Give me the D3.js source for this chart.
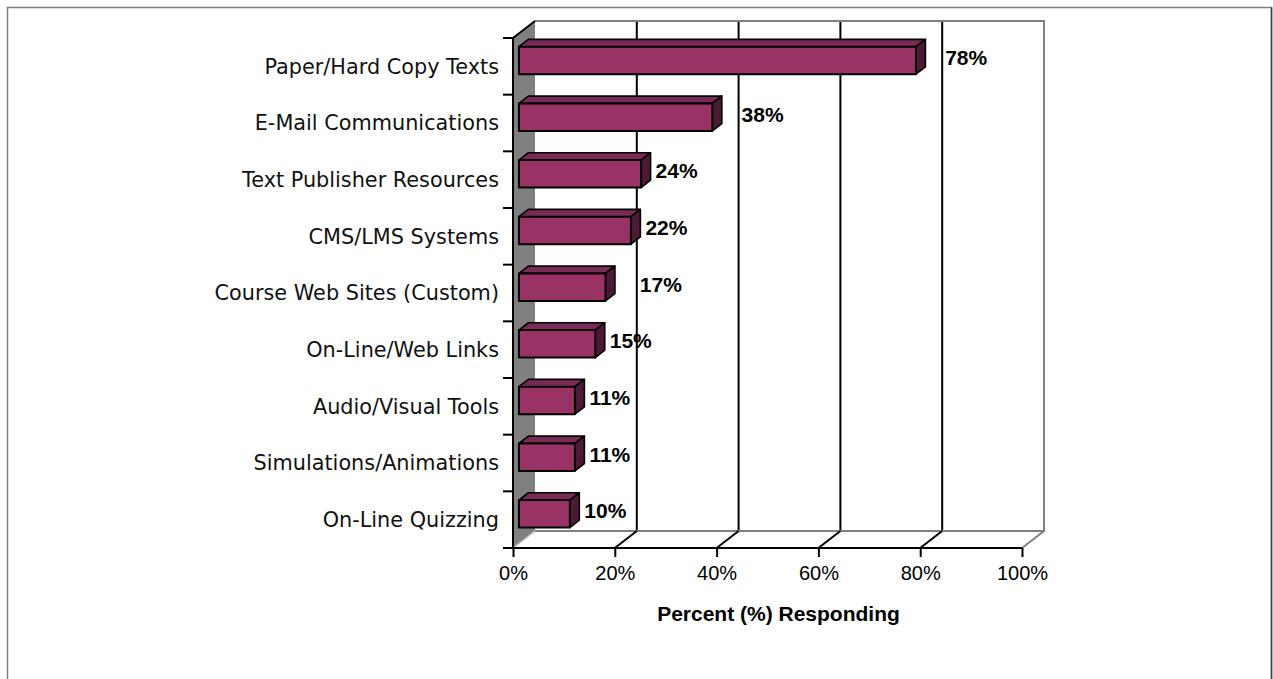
<!DOCTYPE html>
<html>
<head>
<meta charset="utf-8">
<script src="https://cdn.jsdelivr.net/npm/d3@7"></script>
<style>
  html, body { margin: 0; padding: 0; background: #fff; }
  svg { display: block; }
</style>
</head>
<body>
<svg id="chart" width="1273" height="679"></svg>
<script>
// Survey answers: share of respondents using each resource
const categories = [
  "Paper/Hard Copy Texts",
  "E-Mail Communications",
  "Text Publisher Resources",
  "CMS/LMS Systems",
  "Course Web Sites (Custom)",
  "On-Line/Web Links",
  "Audio/Visual Tools",
  "Simulations/Animations",
  "On-Line Quizzing"
];
const percentValues = [78, 38, 24, 22, 17, 15, 11, 11, 10];
const xTickValues = [0, 20, 40, 60, 80, 100];
const xAxisTitle = "Percent (%) Responding";

const svg = d3.select("#chart");

// Front plane scales
const x = d3.scaleLinear().domain([0, 100]).range([513, 1022]);
const y = d3.scaleBand().domain(categories).range([38, 548]).padding(0);

// 3-D depth offset of the plot box
const DX = 22, DY = -17;
const px = (v, f) => x(v) + DX * f;
const py = (yy, f) => yy + DY * f;

const GRAY = "#808080";
const y0 = y.range()[0], y1 = y.range()[1];

// outer frame
svg.append("path")
  .attr("d", "M7.5,690 V7.5 H1271.5 V690")
  .attr("fill", "none").attr("stroke", GRAY).attr("stroke-width", 1.5);
svg.append("line")
  .attr("x1", 1271.5).attr("x2", 1271.5).attr("y1", 7.5).attr("y2", 690)
  .attr("stroke", "#404040").attr("stroke-width", 1.5);

// back wall
svg.append("rect")
  .attr("x", px(0, 1)).attr("y", py(y0, 1))
  .attr("width", px(100, 1) - px(0, 1)).attr("height", y1 - y0)
  .attr("fill", "#fff");

// back wall gridlines
const gridVals = xTickValues.filter(v => v > 0 && v < 100);
svg.append("g").selectAll("line").data(gridVals).join("line")
  .attr("x1", d => px(d, 1)).attr("x2", d => px(d, 1))
  .attr("y1", py(y0, 1)).attr("y2", py(y1, 1))
  .attr("stroke", "#000").attr("stroke-width", 2);

// back wall top and right edges, floor back edge
svg.append("path")
  .attr("d", `M${px(0,1)},${py(y0,1)} H${px(100,1)} V${py(y1,1)} H${px(0,1)}`)
  .attr("fill", "none").attr("stroke", GRAY).attr("stroke-width", 2);

// floor right edge
svg.append("line")
  .attr("x1", px(100, 1)).attr("y1", py(y1, 1))
  .attr("x2", px(100, 0)).attr("y2", py(y1, 0))
  .attr("stroke", GRAY).attr("stroke-width", 2);

// floor gridlines
svg.append("g").selectAll("line").data(gridVals).join("line")
  .attr("x1", d => px(d, 1)).attr("y1", py(y1, 1))
  .attr("x2", d => px(d, 0)).attr("y2", py(y1, 0))
  .attr("stroke", "#000").attr("stroke-width", 2);

// side wall
svg.append("path")
  .attr("d", `M${px(0,0)},${py(y0,0)} L${px(0,1)},${py(y0,1)} L${px(0,1)},${py(y1,1)} L${px(0,0)},${py(y1,0)} Z`)
  .attr("fill", GRAY);
svg.append("line")
  .attr("x1", px(0, 0)).attr("y1", py(y0, 0))
  .attr("x2", px(0, 1)).attr("y2", py(y0, 1))
  .attr("stroke", "#000").attr("stroke-width", 2);
svg.append("line")
  .attr("x1", px(0, 0)).attr("y1", py(y1, 0))
  .attr("x2", px(0, 1)).attr("y2", py(y1, 1))
  .attr("stroke", "#bdbdbd").attr("stroke-width", 1.5);

// bars
const F0 = 0.27, F1 = 0.70;
const barTop = c => y(c) + y.bandwidth() * 0.235;
const barBot = c => y(c) + y.bandwidth() * 0.72;
const rows = categories.map((c, i) => ({ c, v: percentValues[i] }));

const bars = svg.append("g").selectAll("g").data(rows).join("g");
// top face
bars.append("path")
  .attr("d", d => {
    const t = barTop(d.c);
    return `M${px(0,F0)},${py(t,F0)} L${px(d.v,F0)},${py(t,F0)} L${px(d.v,F1)},${py(t,F1)} L${px(0,F1)},${py(t,F1)} Z`;
  })
  .attr("fill", "#7a2a56").attr("stroke", "#000").attr("stroke-width", 1.6)
  .attr("stroke-linejoin", "round");
// side face
bars.append("path")
  .attr("d", d => {
    const t = barTop(d.c), b = barBot(d.c);
    return `M${px(d.v,F0)},${py(t,F0)} L${px(d.v,F1)},${py(t,F1)} L${px(d.v,F1)},${py(b,F1)} L${px(d.v,F0)},${py(b,F0)} Z`;
  })
  .attr("fill", "#4d1a36").attr("stroke", "#000").attr("stroke-width", 1.6)
  .attr("stroke-linejoin", "round");
// front face
bars.append("path")
  .attr("d", d => {
    const t = barTop(d.c), b = barBot(d.c);
    return `M${px(0,F0)},${py(t,F0)} L${px(d.v,F0)},${py(t,F0)} L${px(d.v,F0)},${py(b,F0)} L${px(0,F0)},${py(b,F0)} Z`;
  })
  .attr("fill", "#993366").attr("stroke", "#000").attr("stroke-width", 2)
  .attr("stroke-linejoin", "round");

// front axes
svg.append("line")
  .attr("x1", x(0)).attr("x2", x(0)).attr("y1", y0).attr("y2", y1)
  .attr("stroke", "#000").attr("stroke-width", 2);
svg.append("line")
  .attr("x1", x(0) - 10).attr("x2", x(100)).attr("y1", y1).attr("y2", y1)
  .attr("stroke", "#000").attr("stroke-width", 2);

// y ticks at band edges
const bandEdges = categories.map(c => y(c)).concat([y1]);
svg.append("g").selectAll("line").data(bandEdges).join("line")
  .attr("x1", x(0) - 10).attr("x2", x(0))
  .attr("y1", d => d).attr("y2", d => d)
  .attr("stroke", "#000").attr("stroke-width", 2);

// x axis ticks and labels
const xAxis = d3.axisBottom(x).tickValues(xTickValues)
  .tickFormat(d => d + "%").tickSize(9).tickPadding(9);
const gx = svg.append("g").attr("transform", `translate(0,${y1})`).call(xAxis);
gx.select(".domain").remove();
gx.selectAll(".tick line").attr("stroke", "#000").attr("stroke-width", 2);
gx.selectAll(".tick text")
  .attr("font-family", "Liberation Sans, Arial, sans-serif")
  .attr("font-size", 20).attr("fill", "#000");

// category labels
svg.append("g").selectAll("text").data(categories).join("text")
  .attr("x", 499)
  .attr("y", d => y(d) + y.bandwidth() / 2)
  .attr("dy", "0.36em")
  .attr("text-anchor", "end")
  .attr("font-family", "DejaVu Sans, sans-serif")
  .attr("font-size", 20.8)
  .attr("fill", "#111")
  .text(d => d);

// axis title
svg.append("text")
  .attr("x", (x(0) + px(100, 1)) / 2).attr("y", 621)
  .attr("text-anchor", "middle")
  .attr("font-family", "Liberation Sans, Arial, sans-serif")
  .attr("font-size", 21).attr("font-weight", "bold")
  .attr("fill", "#000")
  .text(xAxisTitle);

// value labels: placed after the bar, nudged past a gridline that would cut the digits
const labelFont = { family: "Liberation Sans, Arial, sans-serif", size: 21 };
const probe = svg.append("text")
  .attr("font-family", labelFont.family).attr("font-size", labelFont.size)
  .attr("font-weight", "bold").attr("visibility", "hidden");
const digitWidth = s => { probe.text(s); return probe.node().getComputedTextLength(); };
const gridBackX = gridVals.map(v => px(v, 1));

svg.append("g").selectAll("text").data(rows).join("text")
  .attr("x", d => {
    let lx = px(d.v, F1) + 5;
    const w = digitWidth(String(d.v));
    gridBackX.forEach(g => { if (g >= lx && g <= lx + w) lx = g + 3; });
    return lx;
  })
  .attr("y", d => y(d.c) + 27)
  .attr("font-family", labelFont.family).attr("font-size", labelFont.size)
  .attr("font-weight", "bold").attr("fill", "#000")
  .text(d => d.v + "%");
probe.remove();
</script>
</body>
</html>
